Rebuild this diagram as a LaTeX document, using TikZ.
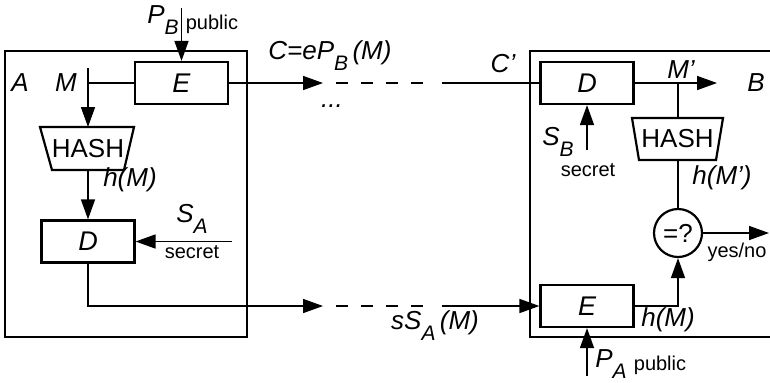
\documentclass[tikz,border=0pt]{standalone}
\usepackage{fontspec}
\setmainfont{Liberation Sans}
\usetikzlibrary{arrows.meta}
\newcommand\lsub[1]{\raisebox{-0.42em}{\fontsize{10.5}{11}\selectfont #1}}
\begin{document}
\begin{tikzpicture}[x=0.5pt,y=-0.5pt,
  lbl/.style={font=\fontsize{13}{15}\selectfont\itshape, inner sep=0pt},
  up/.style={font=\fontsize{13}{15}\selectfont, inner sep=0pt},
  sm/.style={font=\fontsize{10}{12}\selectfont, inner sep=0pt},
  blk/.style={draw, line width=1.1pt, minimum width=46.5pt, minimum height=21pt, inner sep=0pt, font=\fontsize{13.5}{15}\selectfont\itshape},
  ln/.style={line width=0.8pt},
  arr/.style={ln, -{Triangle[length=10pt,width=7pt]}},
  dsh/.style={ln, dash pattern=on 6pt off 6.5pt},
  frame/.style={line width=1.2pt}]
\useasboundingbox (0,0) rectangle (770,382);
% frames
\draw[frame] (5,51) rectangle (247,337);
\draw[frame] (780,51) -- (530,51) -- (530,337) -- (780,337);
% blocks
\node[blk] (EA) at (181.5,83) {E};
\node[blk] (DA) at (88,241.5) {D};
\node[blk] (DB) at (587,83) {D};
\node[blk] (EB) at (587,306) {E};
\node[draw, circle, line width=1.1pt, minimum size=24pt, inner sep=0pt, up] (CMP) at (678,233) {=?};
% hash A
\draw[line width=1.1pt] (40,127) -- (134,127) -- (124,170) -- (52,170) -- cycle;
\node[up] (HA) at (88,148.5) {HASH};
\coordinate (hAt) at (88,127);
\coordinate (hAb) at (88,170);
% hash B
\draw[line width=1.1pt] (632,118) -- (723,118) -- (716,160) -- (639,160) -- cycle;
\node[up] (HB) at (677.5,139) {HASH};
\coordinate (hBt) at (678,118);
\coordinate (hBb) at (678,160);
% coordinates
\coordinate (PBs) at (181.5,8);
\coordinate (Mt) at (88,68);
\coordinate (Mc) at (88,83);
\coordinate (SAs) at (232,241.5);
\coordinate (t1) at (323,83);
\coordinate (t2) at (336,83);
\coordinate (t3) at (430,83);
\coordinate (t4) at (442,83);
\coordinate (b1) at (323,306);
\coordinate (b2) at (336,306);
\coordinate (b3) at (430,306);
\coordinate (b4) at (442,306);
\coordinate (Mo) at (717,83);
\coordinate (Mj) at (678,83);
\coordinate (YN) at (769,233);
\coordinate (SBs) at (587,150);
\coordinate (PAs) at (587,376);
% connectors A
\draw[arr] (PBs) -- (EA.north);
\draw[ln] (EA.west) -- (Mc);
\draw[arr] (Mt) -- (hAt);
\draw[arr] (hAb) -- (DA.north);
\draw[arr] (SAs) -- (DA.east);
\draw[arr] (EA.east) -- (t1);
\draw[dsh] (t2) -- (t3);
\draw[ln] (t4) -- (DB.west);
\draw[arr] (DA.south) |- (b1);
\draw[dsh] (b2) -- (b3);
\draw[arr] (b4) -- (EB.west);
% connectors B
\draw[arr] (DB.east) -- (Mo);
\draw[ln] (Mj) -- (hBt);
\draw[ln] (hBb) -- (CMP.north);
\draw[arr] (CMP.east) -- (YN);
\draw[arr] (EB.east) -| (CMP.south);
\draw[arr] (SBs) -- (DB.south);
\draw[arr] (PAs) -- (EB.south);
% labels
\node[lbl] (lPB) at (163,20) {P\lsub{B}};
\node[sm] (lpub1) at (212,24) {public};
\node[lbl] (lA) at (20,83) {A};
\node[lbl] (lM) at (66,83) {M};
\node[lbl] (lhM) at (130,180) {h(M)};
\node[lbl] (lSA) at (192,219) {S\lsub{A}};
\node[sm] (lsec1) at (192,252) {secret};
\node[lbl] (lC) at (330,56) {C=eP\lsub{B}\,(M)};
\node[lbl] (ldots) at (332,106) {...};
\node[lbl] (lCp) at (503,64) {C'};
\node[lbl] (lsSA) at (435,326) {sS\lsub{A}\,(M)};
\node[lbl] (lSB) at (558,142) {S\lsub{B}};
\node[sm] (lsec2) at (588,170) {secret};
\node[lbl] (lMp) at (681,70) {M'};
\node[lbl] (lB) at (756,83) {B};
\node[lbl] (lhMp) at (722,178) {h(M')};
\node[sm] (lyn) at (737,252) {yes/no};
\node[lbl] (lhM2) at (668,320) {h(M)};
\node[lbl] (lPA) at (611,364) {P\lsub{A}};
\node[sm] (lpub2) at (660,365) {public};
\end{tikzpicture}
\end{document}
